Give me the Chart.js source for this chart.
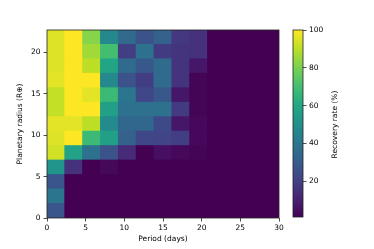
<!DOCTYPE html>
<html>
<head>
<meta charset="utf-8">
<script src="https://cdn.jsdelivr.net/npm/chart.js@4.4.1/dist/chart.umd.min.js"></script>
<style>
  html, body { margin: 0; padding: 0; background: #fff; }
  #main { position: absolute; left: 0; top: 0; width: 290px; height: 249px; }
  #cbar { position: absolute; left: 280px; top: 0; width: 94px; height: 249px; }
</style>
</head>
<body>
<div id="main"><canvas id="c1"></canvas></div>
<div id="cbar"><canvas id="c2"></canvas></div>
<script>
// ---- Data ----
const periodEdges = [0, 2.308, 4.615, 6.923, 9.231, 11.538, 13.846, 16.154, 18.462, 20.769, 23.077, 25.385, 27.692, 30];
const radiusEdges = [0, 1.746, 3.492, 5.238, 6.985, 8.731, 10.477, 12.223, 13.969, 15.715, 17.462, 19.208, 20.954, 22.7];
// recovery rate (%) per radius bin (bottom -> top), one value per period bin
const rate_r00 = [27, 1, 1, 1, 1, 1, 1, 1, 1, 1, 1, 1, 1];
const rate_r01 = [40, 1, 1, 1, 1, 1, 1, 1, 1, 1, 1, 1, 1];
const rate_r02 = [27, 1, 1, 1, 1, 1, 1, 1, 1, 1, 1, 1, 1];
const rate_r03 = [52, 15, 1, 3, 1, 1, 1, 1, 1, 1, 1, 1, 1];
const rate_r04 = [93, 58, 38, 26, 13, 1, 5, 3, 2, 1, 1, 1, 1];
const rate_r05 = [95, 100, 68, 57, 32, 22, 21, 19, 3, 1, 1, 1, 1];
const rate_r06 = [96, 96, 90, 48, 34, 34, 23, 7, 3, 1, 1, 1, 1];
const rate_r07 = [91, 100, 100, 57, 38, 38, 38, 18, 2, 1, 1, 1, 1];
const rate_r08 = [91, 100, 96, 68, 40, 22, 28, 7, 2, 1, 1, 1, 1];
const rate_r09 = [96, 100, 100, 47, 26, 19, 35, 16, 2, 1, 1, 1, 1];
const rate_r10 = [95, 100, 90, 59, 35, 28, 35, 16, 7, 1, 1, 1, 1];
const rate_r11 = [95, 100, 86, 70, 19, 38, 18, 16, 15, 1, 1, 1, 1];
const rate_r12 = [95, 100, 82, 47, 35, 26, 32, 17, 15, 1, 1, 1, 1];
const recoveryRows = [rate_r00, rate_r01, rate_r02, rate_r03, rate_r04, rate_r05, rate_r06,
                      rate_r07, rate_r08, rate_r09, rate_r10, rate_r11, rate_r12];
const xTicks = [0, 5, 10, 15, 20, 25, 30];
const yTicks = [0, 5, 10, 15, 20];
const cbarTicks = [20, 40, 60, 80, 100];
const rateMin = 1, rateMax = 100;

// ---- viridis colormap ----
const viridis = ['#440154','#482475','#414487','#355f8d','#2a788e','#21918c','#22a884','#44bf70','#7ad151','#bddf26','#fde725'];
function hexToRgb(h){ return [parseInt(h.slice(1,3),16), parseInt(h.slice(3,5),16), parseInt(h.slice(5,7),16)]; }
const vRGB = viridis.map(hexToRgb);
function cmap(v){
  let t = (v - rateMin) / (rateMax - rateMin);
  t = Math.max(0, Math.min(1, t));
  const p = t * (vRGB.length - 1);
  const i = Math.min(Math.floor(p), vRGB.length - 2);
  const f = p - i;
  const a = vRGB[i], b = vRGB[i+1];
  return 'rgb(' + [0,1,2].map(k => Math.round(a[k] + (b[k]-a[k])*f)).join(',') + ')';
}

const FONT = { family: 'DejaVu Sans', size: 7.5 };
Chart.defaults.font.family = 'DejaVu Sans';
Chart.defaults.color = '#000';

const frame = {
  id: 'frame',
  afterDraw(chart) {
    const a = chart.chartArea, ctx = chart.ctx;
    ctx.save();
    ctx.strokeStyle = '#222';
    ctx.lineWidth = 0.8;
    ctx.strokeRect(a.left, a.top, a.right - a.left, a.bottom - a.top);
    ctx.restore();
  }
};

// ---- main heat map: floating bars, one dataset per radius bin ----
const periodCenters = periodEdges.slice(0, -1).map((e, i) => (e + periodEdges[i+1]) / 2);
const datasets = recoveryRows.map((row, r) => ({
  data: periodCenters.map((x, c) => ({ x: x, y: [radiusEdges[r], radiusEdges[r+1]] })),
  backgroundColor: row.map(cmap),
  borderWidth: 0,
  inflateAmount: 0.5,
  grouped: false,
  barPercentage: 1,
  categoryPercentage: 1
}));

new Chart(document.getElementById('c1'), {
  type: 'bar',
  data: { datasets: datasets },
  options: {
    responsive: true,
    maintainAspectRatio: false,
    animation: false,
    layout: { padding: { top: 30, right: 11, left: 0, bottom: 0 } },
    plugins: { legend: { display: false }, tooltip: { enabled: false } },
    scales: {
      x: {
        type: 'linear', min: 0, max: 30, offset: false,
        afterBuildTicks: s => { s.ticks = xTicks.map(v => ({ value: v })); },
        afterFit: s => { s.height = 31; },
        ticks: { font: FONT, padding: 2, maxRotation: 0, autoSkip: false },
        grid: { offset: false, drawOnChartArea: false, drawTicks: true, tickLength: 3.5, tickColor: '#222', tickWidth: 0.8 },
        border: { display: false },
        title: { display: true, text: 'Period (days)', font: FONT, padding: { top: 5.5, bottom: 5.5 } }
      },
      y: {
        type: 'linear', min: 0, max: 22.7,
        afterBuildTicks: s => { s.ticks = yTicks.map(v => ({ value: v })); },
        afterFit: s => { s.width = 47; },
        ticks: { font: FONT, padding: 3, autoSkip: false },
        grid: { drawOnChartArea: false, drawTicks: true, tickLength: 3.5, tickColor: '#222', tickWidth: 0.8 },
        border: { display: false },
        title: { display: true, text: 'Planetary radius (R\u2295)', font: FONT, padding: { top: 15.5, bottom: 0 } }
      }
    }
  },
  plugins: [frame]
});

// ---- colorbar ----
const cbTitle = {
  id: 'cbTitle',
  afterDraw(chart) {
    const a = chart.chartArea, ctx = chart.ctx;
    ctx.save();
    ctx.translate(55, (a.top + a.bottom) / 2 + 1);
    ctx.rotate(-Math.PI / 2);
    ctx.font = '7.5px "DejaVu Sans"';
    ctx.fillStyle = '#000';
    ctx.textAlign = 'center';
    ctx.textBaseline = 'middle';
    ctx.fillText('Recovery rate (%)', 0, 0);
    ctx.restore();
  }
};

new Chart(document.getElementById('c2'), {
  type: 'bar',
  data: {
    labels: [''],
    datasets: [{
      data: [[rateMin, rateMax]],
      borderWidth: 0,
      barPercentage: 1,
      categoryPercentage: 1,
      backgroundColor: (ctx) => {
        const chart = ctx.chart, ys = chart.scales.y;
        if (!chart.chartArea || !ys) return viridis[0];
        const g = chart.ctx.createLinearGradient(0, ys.getPixelForValue(rateMin), 0, ys.getPixelForValue(rateMax));
        viridis.forEach((c, i) => g.addColorStop(i / (viridis.length - 1), c));
        return g;
      }
    }]
  },
  options: {
    responsive: true,
    maintainAspectRatio: false,
    animation: false,
    layout: { padding: { top: 30, left: 13, right: 0, bottom: 32 } },
    plugins: { legend: { display: false }, tooltip: { enabled: false } },
    scales: {
      x: { display: false },
      y: {
        position: 'right', min: rateMin, max: rateMax,
        afterBuildTicks: s => { s.ticks = cbarTicks.map(v => ({ value: v })); },
        afterFit: s => { s.width = 71; },
        ticks: { font: FONT, padding: 2.5, autoSkip: false },
        grid: { drawOnChartArea: false, drawTicks: true, tickLength: 3.5, tickColor: '#222', tickWidth: 0.8 },
        border: { display: false }
      }
    }
  },
  plugins: [frame, cbTitle]
});
</script>
</body>
</html>
